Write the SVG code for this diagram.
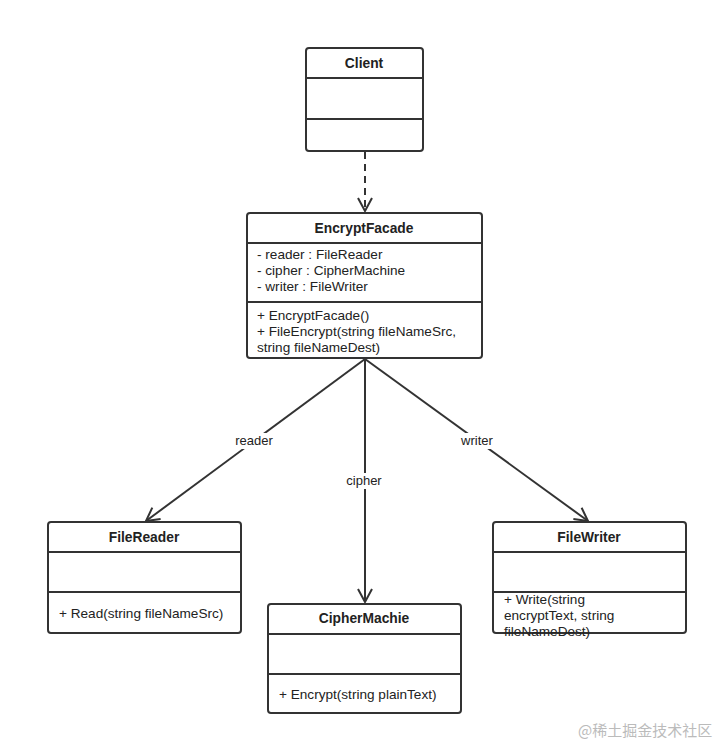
<svg xmlns="http://www.w3.org/2000/svg" width="718" height="745" viewBox="0 0 718 745">
<style>
.box{fill:#fff;stroke:#333;stroke-width:2}
.ln{stroke:#333;stroke-width:2;fill:none}
text{font-family:"Liberation Sans",sans-serif;font-size:13.6px;fill:#222}
.t{font-weight:bold;text-anchor:middle;font-size:13.8px}
.lbl{text-anchor:middle;font-size:13px}
.wm{font-family:"Noto Sans CJK SC",sans-serif;font-size:15px;fill:#bbb}
</style>
<defs>
<marker id="open" markerWidth="16" markerHeight="16" viewBox="0 0 16 16" refX="14" refY="8" orient="auto" markerUnits="userSpaceOnUse">
<path d="M1,1 L14,8 L1,15" fill="none" stroke="#333" stroke-width="2"/>
</marker>
</defs>
<rect width="718" height="745" fill="#fff"/>
<g id="connectors">
<line class="ln" x1="365" y1="152" x2="365" y2="211" stroke-dasharray="7,5" marker-end="url(#open)"/>
<line class="ln" x1="365" y1="359" x2="146" y2="521" marker-end="url(#open)"/>
<line class="ln" x1="365" y1="359" x2="365" y2="602" marker-end="url(#open)"/>
<line class="ln" x1="365" y1="359" x2="588" y2="521" marker-end="url(#open)"/>
<rect x="230" y="433" width="48" height="16" fill="#fff"/>
<text class="lbl" x="254" y="445">reader</text>
<rect x="342" y="473" width="46" height="16" fill="#fff"/>
<text class="lbl" x="364" y="485">cipher</text>
<rect x="455" y="433" width="46" height="16" fill="#fff"/>
<text class="lbl" x="477" y="445">writer</text>
</g>
<g id="Client">
<rect class="box" x="306" y="48" width="117" height="103" rx="3"/>
<line class="ln" x1="306" y1="78" x2="423" y2="78"/>
<line class="ln" x1="306" y1="119" x2="423" y2="119"/>
<text class="t" x="364" y="68">Client</text>
</g>
<g id="EncryptFacade">
<rect class="box" x="247" y="213" width="235" height="145" rx="3"/>
<line class="ln" x1="247" y1="243" x2="482" y2="243"/>
<line class="ln" x1="247" y1="302" x2="482" y2="302"/>
<text class="t" x="364" y="233">EncryptFacade</text>
<text x="257" y="259">- reader : FileReader</text>
<text x="257" y="275">- cipher : CipherMachine</text>
<text x="257" y="291">- writer : FileWriter</text>
<text x="257" y="320">+ EncryptFacade()</text>
<text x="257" y="336">+ FileEncrypt(string fileNameSrc,</text>
<text x="257" y="352">string fileNameDest)</text>
</g>
<g id="FileReader">
<rect class="box" x="48" y="522" width="193" height="111" rx="3"/>
<line class="ln" x1="48" y1="552" x2="241" y2="552"/>
<line class="ln" x1="48" y1="592" x2="241" y2="592"/>
<text class="t" x="144" y="542">FileReader</text>
<text x="59" y="618">+ Read(string fileNameSrc)</text>
</g>
<g id="CipherMachie">
<rect class="box" x="268" y="604" width="193" height="109" rx="3"/>
<line class="ln" x1="268" y1="634" x2="461" y2="634"/>
<line class="ln" x1="268" y1="674" x2="461" y2="674"/>
<text class="t" x="364" y="623">CipherMachie</text>
<text x="279" y="699">+ Encrypt(string plainText)</text>
</g>
<g id="FileWriter">
<rect class="box" x="493" y="522" width="193" height="111" rx="3"/>
<line class="ln" x1="493" y1="552" x2="686" y2="552"/>
<line class="ln" x1="493" y1="592" x2="686" y2="592"/>
<text class="t" x="589" y="542">FileWriter</text>
<text x="504" y="604">+ Write(string</text>
<text x="504" y="620">encryptText, string</text>
<text x="504" y="636">fileNameDest)</text>
</g>
<text class="wm" x="578" y="736">@稀土掘金技术社区</text>
</svg>
